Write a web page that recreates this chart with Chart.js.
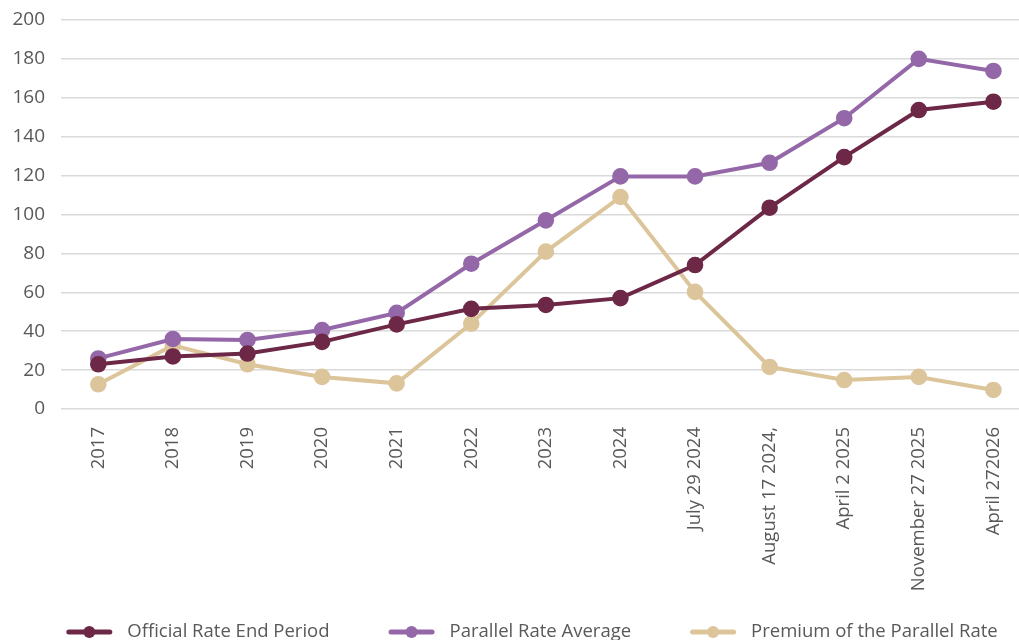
<!DOCTYPE html>
<html>
<head>
<meta charset="utf-8">
<script src="https://cdn.jsdelivr.net/npm/chart.js@4.4.1/dist/chart.umd.min.js"></script>
<style>
  html, body { margin: 0; padding: 0; background: #ffffff; overflow: hidden; }
  #wrap { position: relative; width: 1041px; height: 652px; }
</style>
</head>
<body>
<div id="wrap"><canvas id="chart"></canvas></div>
<script>
// Period labels on the horizontal axis
const periods = ["2017", "2018", "2019", "2020", "2021", "2022", "2023", "2024",
  "July 29 2024", "August 17 2024,", "April 2 2025", "November 27 2025", "April 272026"];

// Exchange-rate series
const officialRate = [23, 27, 28.5, 34.5, 43.5, 51.5, 53.5, 57, 74, 103.5, 129.5, 153.7, 158];
const parallelRate = [26, 36, 35.5, 40.6, 49.4, 74.7, 97, 119.6, 119.6, 126.6, 149.5, 180, 173.8];
const premiumRate  = [12.7, 32.7, 23, 16.5, 13.2, 43.9, 80.9, 109, 60.2, 21.6, 14.9, 16.5, 9.8];

// Value-axis ticks
const yTicks = [0, 20, 40, 60, 80, 100, 120, 140, 160, 180, 200];

const seriesNames = ["Official Rate End Period", "Parallel Rate Average", "Premium of the Parallel Rate"];
const seriesColors = ["#6c2846", "#9467a8", "#dcc59a"];

const FONT = "'Open Sans', sans-serif";
const TEXT = "#595959";

// Single-row legend under the axis: thick line swatch with a dot, then the series name
const legendRow = {
  id: "legendRow",
  afterDraw(chart) {
    const ctx = chart.ctx;
    const swatch = 46, textGap = 15, itemGap = 59, midY = 632, centerX = 532;
    ctx.save();
    ctx.font = "18.5px " + FONT;
    const items = chart.data.datasets.map(d => ({
      text: d.label, color: d.borderColor, w: ctx.measureText(d.label).width
    }));
    const total = items.reduce((s, it) => s + swatch + textGap + it.w, 0) + itemGap * (items.length - 1);
    let x = centerX - total / 2;
    items.forEach(it => {
      ctx.strokeStyle = it.color;
      ctx.lineWidth = 5;
      ctx.lineCap = "round";
      ctx.beginPath();
      ctx.moveTo(x + 2.5, midY);
      ctx.lineTo(x + swatch - 2.5, midY);
      ctx.stroke();
      ctx.fillStyle = it.color;
      ctx.beginPath();
      ctx.arc(x + swatch / 2, midY, 6, 0, Math.PI * 2);
      ctx.fill();
      x += swatch + textGap;
      ctx.fillStyle = TEXT;
      ctx.textAlign = "left";
      ctx.textBaseline = "middle";
      ctx.fillText(it.text, x, midY);
      x += it.w + itemGap;
    });
    ctx.restore();
  }
};

const datasets = [officialRate, parallelRate, premiumRate].map((vals, i) => ({
  label: seriesNames[i],
  data: vals,
  borderColor: seriesColors[i],
  backgroundColor: seriesColors[i],
  pointBackgroundColor: seriesColors[i],
  pointBorderColor: seriesColors[i],
  borderWidth: 4,
  pointRadius: 6.3,
  pointHoverRadius: 6.3,
  tension: 0,
  fill: false
}));

new Chart(document.getElementById("chart"), {
  type: "line",
  data: { labels: periods, datasets: datasets },
  plugins: [legendRow],
  options: {
    responsive: true,
    maintainAspectRatio: false,
    animation: false,
    layout: { padding: { top: 20, left: 0, right: 0, bottom: 39 } },
    plugins: {
      tooltip: { enabled: false },
      legend: { display: false }
    },
    scales: {
      x: {
        offset: true,
        grid: { display: false, drawTicks: false },
        border: { display: false },
        ticks: {
          color: TEXT,
          font: { family: FONT, size: 18.5 },
          minRotation: 90,
          maxRotation: 90,
          autoSkip: false,
          padding: 18
        },
        afterFit(scale) { scale.height = 204; }
      },
      y: {
        min: 0,
        max: 200,
        afterBuildTicks(scale) { scale.ticks = yTicks.map(v => ({ value: v })); },
        grid: { color: "#dadada", lineWidth: 1.5, drawTicks: false },
        border: { display: false },
        ticks: {
          color: TEXT,
          font: { family: FONT, size: 19 },
          padding: 16
        },
        afterFit(scale) {
          scale.width = 61;
          scale.paddingTop = 0;
          scale.paddingBottom = 0;
        }
      }
    }
  }
});
</script>
</body>
</html>
